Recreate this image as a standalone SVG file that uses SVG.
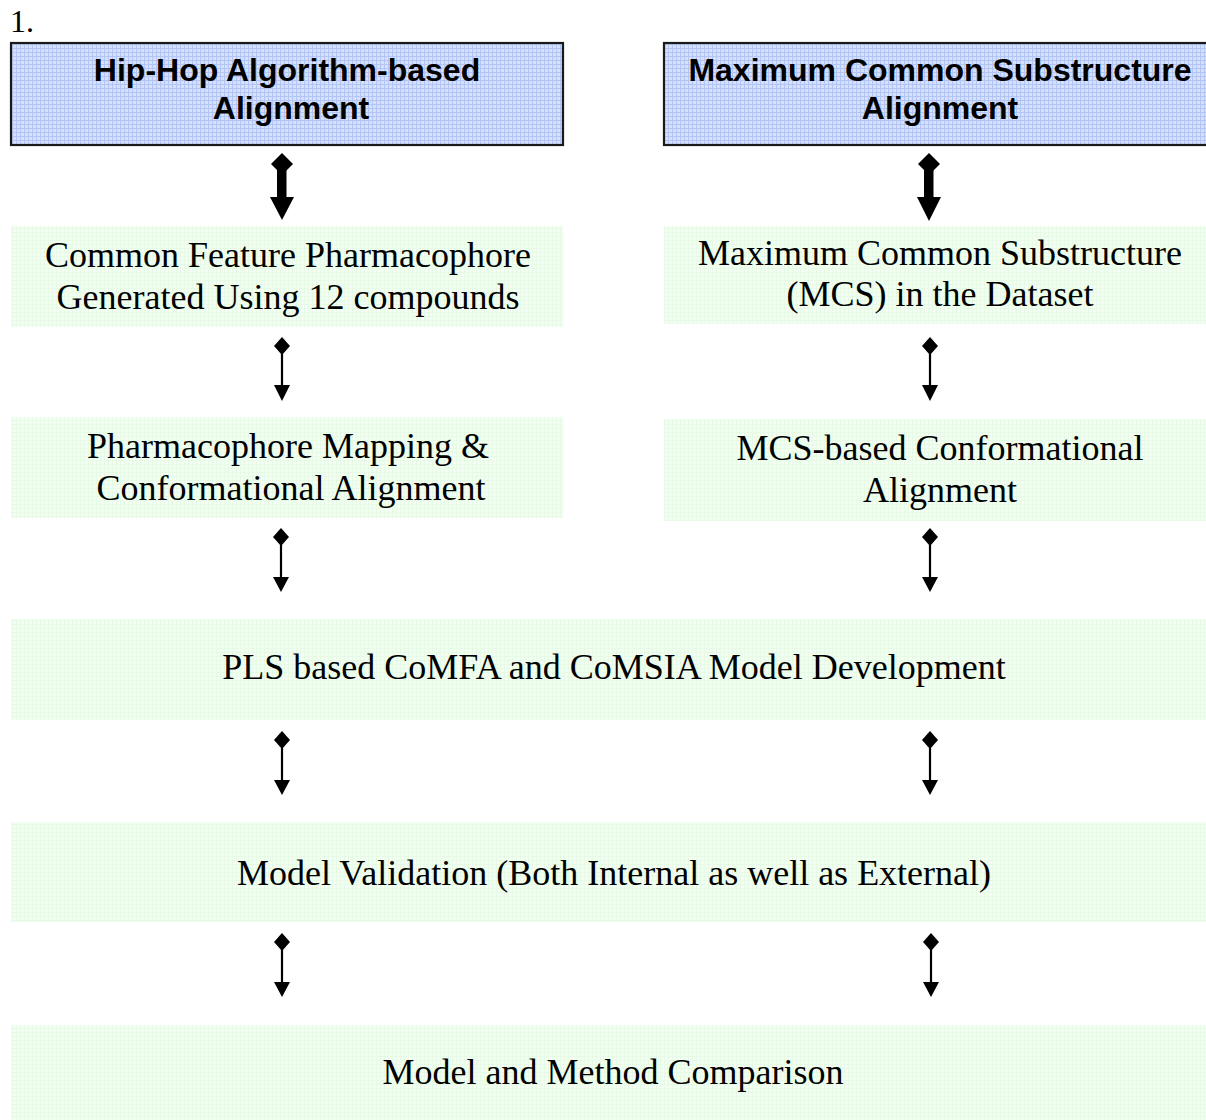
<svg xmlns="http://www.w3.org/2000/svg" width="1206" height="1120" viewBox="0 0 1206 1120">
<defs>
<pattern id="bluegrid" width="4" height="4" patternUnits="userSpaceOnUse">
<rect width="4" height="4" fill="#d6e0fa"/>
<rect x="0" y="0" width="4" height="1" fill="#b3c5f4"/>
<rect x="0" y="0" width="1" height="4" fill="#b3c5f4"/>
</pattern>
<pattern id="greengrid" width="4" height="4" patternUnits="userSpaceOnUse">
<rect width="4" height="4" fill="#f3fdf3"/>
<rect x="0" y="0" width="4" height="1" fill="#e6fae6"/>
<rect x="0" y="0" width="1" height="4" fill="#e6fae6"/>
</pattern>
</defs>
<style>
.hdr{fill:url(#bluegrid);stroke:#1a1a1a;stroke-width:2.2}
.box{fill:url(#greengrid);stroke:none}
.ht{font-family:"Liberation Sans",Arial,sans-serif;font-weight:bold;font-size:32px;fill:#000;text-anchor:middle}
.bt{font-family:"Liberation Serif","Times New Roman",serif;font-size:36px;fill:#000;text-anchor:middle}
.ar{fill:#000}
.sh{stroke:#000;stroke-width:2.2;fill:none}
</style>
<rect width="1206" height="1120" fill="#fff"/>
<text x="10" y="32" font-family="Liberation Serif,serif" font-size="32" fill="#000">1.</text>

<g id="hiphop">
<rect class="hdr" x="11" y="43" width="552" height="102"/>
<text class="ht" x="287" y="81">Hip-Hop Algorithm-based</text>
<text class="ht" x="291" y="119">Alignment</text>
</g>
<g id="mcs-align">
<rect class="hdr" x="664" y="43" width="560" height="102"/>
<text class="ht" x="940" y="81">Maximum Common Substructure</text>
<text class="ht" x="940" y="119">Alignment</text>
</g>
<g id="cfp">
<rect class="box" x="11" y="226" width="552" height="101"/>
<text class="bt" x="288" y="267">Common Feature Pharmacophore</text>
<text class="bt" x="288" y="309">Generated Using 12 compounds</text>
</g>
<g id="mcs-data">
<rect class="box" x="664" y="226" width="542" height="98"/>
<text class="bt" x="940" y="265">Maximum Common Substructure</text>
<text class="bt" x="940" y="306">(MCS) in the Dataset</text>
</g>
<g id="pmca">
<rect class="box" x="11" y="417" width="552" height="101"/>
<text class="bt" x="288" y="458">Pharmacophore Mapping &amp;</text>
<text class="bt" x="291" y="500">Conformational Alignment</text>
</g>
<g id="mcsca">
<rect class="box" x="664" y="419" width="542" height="102"/>
<text class="bt" x="940" y="460">MCS-based Conformational</text>
<text class="bt" x="940" y="502">Alignment</text>
</g>
<g id="pls">
<rect class="box" x="11" y="619" width="1195" height="101"/>
<text class="bt" x="614" y="679">PLS based CoMFA and CoMSIA Model Development</text>
</g>
<g id="validation">
<rect class="box" x="11" y="822" width="1195" height="100"/>
<text class="bt" x="614" y="885">Model Validation (Both Internal as well as External)</text>
</g>
<g id="comparison">
<rect class="box" x="11" y="1025" width="1195" height="95"/>
<text class="bt" x="613" y="1084">Model and Method Comparison</text>
</g>

<g id="connectors">
<g>
<polygon class="ar" points="282,153 293,164 282,175 271,164"/>
<rect class="ar" x="277" y="170" width="9.5" height="30"/>
<polygon class="ar" points="270,197 294,197 282,220"/>
</g>
<g>
<polygon class="ar" points="929,153 940,164 929,175 918,164"/>
<rect class="ar" x="924" y="170" width="9.5" height="30"/>
<polygon class="ar" points="917,197 941,197 929,221"/>
</g>
<g>
<polygon class="ar" points="282,337 290,346 282,355 274,346"/>
<line class="sh" x1="282" y1="352" x2="282" y2="388"/>
<polygon class="ar" points="274,385 290,385 282,401"/>
</g>
<g>
<polygon class="ar" points="930,337 938,346 930,355 922,346"/>
<line class="sh" x1="930" y1="352" x2="930" y2="388"/>
<polygon class="ar" points="922,385 938,385 930,401"/>
</g>
<g>
<polygon class="ar" points="281,528 289,537 281,546 273,537"/>
<line class="sh" x1="281" y1="543" x2="281" y2="580"/>
<polygon class="ar" points="273,577 289,577 281,592"/>
</g>
<g>
<polygon class="ar" points="930,528 938,537 930,546 922,537"/>
<line class="sh" x1="930" y1="543" x2="930" y2="580"/>
<polygon class="ar" points="922,577 938,577 930,592"/>
</g>
<g>
<polygon class="ar" points="282,731 290,740 282,749 274,740"/>
<line class="sh" x1="282" y1="746" x2="282" y2="783"/>
<polygon class="ar" points="274,780 290,780 282,795"/>
</g>
<g>
<polygon class="ar" points="930,731 938,740 930,749 922,740"/>
<line class="sh" x1="930" y1="746" x2="930" y2="783"/>
<polygon class="ar" points="922,780 938,780 930,795"/>
</g>
<g>
<polygon class="ar" points="282,933 290,942 282,951 274,942"/>
<line class="sh" x1="282" y1="948" x2="282" y2="985"/>
<polygon class="ar" points="274,982 290,982 282,997"/>
</g>
<g>
<polygon class="ar" points="931,933 939,942 931,951 923,942"/>
<line class="sh" x1="931" y1="948" x2="931" y2="985"/>
<polygon class="ar" points="923,982 939,982 931,997"/>
</g>
</g>
</svg>
